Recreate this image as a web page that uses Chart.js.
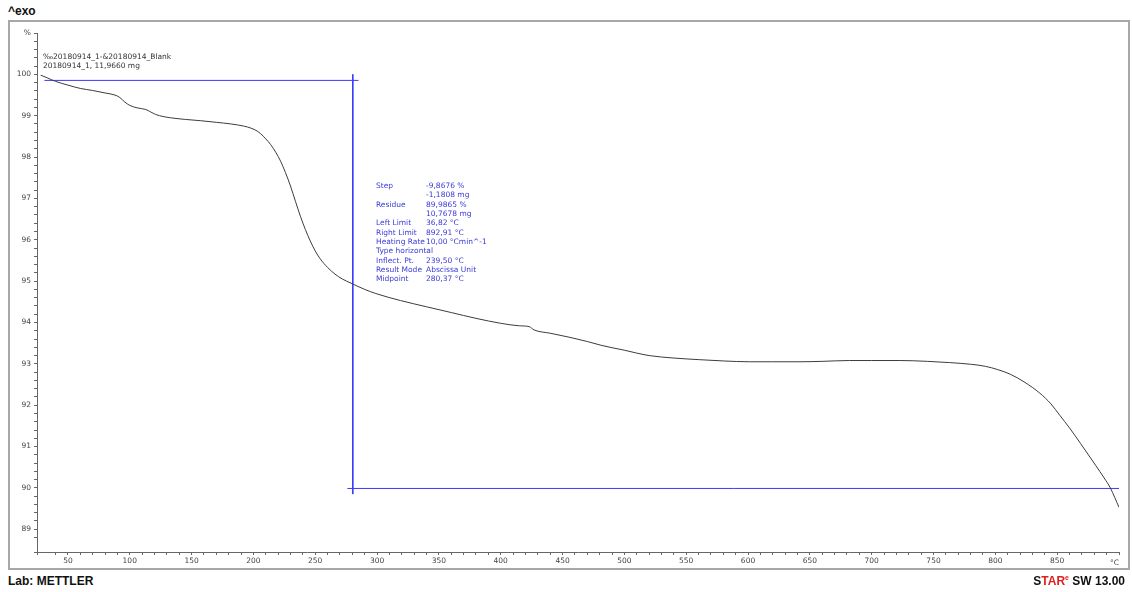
<!DOCTYPE html>
<html>
<head>
<meta charset="utf-8">
<script src="https://cdn.jsdelivr.net/npm/chart.js@4/dist/chart.umd.min.js"></script>
<style>
  body { margin: 0; background: #fff; width: 1132px; height: 592px; position: relative; overflow: hidden; font-family: "DejaVu Sans", sans-serif; }
  #frame { position: absolute; left: 8px; top: 20px; width: 1118px; height: 546px; border: 2px solid #a8a8a8; }
  #wrap { position: absolute; left: 0; top: 0; width: 1118px; height: 546px; }
  .t { position: absolute; white-space: pre; }
  .bold { font-family: "Liberation Sans", Arial, sans-serif; font-weight: bold; font-size: 12px; color: #111; }
  .small { font-size: 7.5px; color: #333; }
  .blue { font-size: 7.5px; color: #3a3ad8; line-height: 9.35px; }
</style>
</head>
<body>
<div class="t bold" style="left:8px;top:4px;">^exo</div>
<div id="frame"><div id="wrap"><canvas id="tga"></canvas></div></div>
<div class="t small" style="left:43px;top:52px;">‰20180914_1-&amp;20180914_Blank</div>
<div class="t small" style="left:43px;top:61px;">20180914_1, 11,9660 mg</div>
<div class="t blue" style="left:376px;top:181px;">Step
 
Residue
 
Left Limit
Right Limit
Heating Rate
Type horizontal
Inflect. Pt.
Result Mode
Midpoint</div>
<div class="t blue" style="left:426px;top:181px;">-9,8676 %
-1,1808 mg
89,9865 %
10,7678 mg
36,82 °C
892,91 °C
10,00 °Cmin^-1
 
239,50 °C
Abscissa Unit
280,37 °C</div>
<div class="t small" style="left:1110px;top:558px;font-size:7.5px;color:#444;">°C</div>
<div class="t bold" style="left:8px;top:574px;">Lab: METTLER</div>
<div class="t bold" style="right:7px;top:574px;">S<span style="color:#e02020">TAR</span><sup style="color:#e02020;font-size:7px;">e</sup> SW 13.00</div>
<script>
// TGA curve, temperature (°C) vs mass (%)
const temps = [28, 33, 40, 50, 60, 70, 80, 88, 92, 96, 100, 106, 113, 117, 121, 127, 133, 145, 157, 170,
  182, 192, 198, 203, 206, 210, 214, 218, 222, 226, 230, 234, 238, 242, 246, 250, 254, 260, 266, 272,
  279, 290, 299, 319, 340, 360, 380, 400, 415, 423, 427, 440, 456, 470, 481, 490, 500, 510, 520, 540,
  561, 580, 601, 620, 642, 660, 682, 700, 723, 745, 763, 780, 792, 802, 812, 824, 836, 845, 852, 860,
  869, 881, 888, 893, 900];
const massPct = [99.98, 99.92, 99.83, 99.74, 99.66, 99.61, 99.55, 99.50, 99.44, 99.33, 99.25, 99.19, 99.15, 99.09, 99.03, 98.98, 98.95, 98.91, 98.88, 98.84,
  98.80, 98.75, 98.70, 98.63, 98.56, 98.44, 98.30, 98.12, 97.90, 97.62, 97.30, 96.93, 96.57, 96.25, 95.97, 95.73, 95.54, 95.33, 95.17, 95.05,
  94.95, 94.80, 94.70, 94.53, 94.38, 94.24, 94.10, 93.98, 93.92, 93.90, 93.82, 93.74, 93.64, 93.54, 93.45, 93.39, 93.33, 93.26, 93.20, 93.14,
  93.10, 93.07, 93.05, 93.05, 93.05, 93.06, 93.08, 93.08, 93.08, 93.06, 93.03, 92.99, 92.94, 92.86, 92.75, 92.55, 92.29, 92.03, 91.76, 91.45,
  91.07, 90.55, 90.24, 90.00, 89.53];

// step evaluation construction lines
const stepTop = 99.854;
const stepResidue = 89.9865;
const midpoint = 280.37;
const topLineX = [31, 285];
const bottomLineX = [276, 900];
const vertLineY = [100.0, 89.85];

const xTicks = { min: 25, max: 900, step: 10, labelEvery: 50, lastLabel: 850 };
const yTicks = { min: 88.45, max: 101, step: 0.2 };

const curve = temps.map((t, i) => ({ x: t, y: massPct[i] }));
const blue = '#3a3aff';

new Chart(document.getElementById('tga'), {
  type: 'line',
  data: {
    datasets: [
      { data: curve, borderColor: '#3c3c3c', borderWidth: 1, pointRadius: 0, cubicInterpolationMode: 'monotone' },
      { data: topLineX.map(x => ({ x: x, y: stepTop })), borderColor: blue, borderWidth: 1, pointRadius: 0 },
      { data: bottomLineX.map(x => ({ x: x, y: stepResidue })), borderColor: blue, borderWidth: 1, pointRadius: 0 },
      { data: vertLineY.map(y => ({ x: midpoint, y: y })), borderColor: blue, borderWidth: 1, pointRadius: 0 }
    ]
  },
  options: {
    responsive: true,
    maintainAspectRatio: false,
    animation: false,
    layout: { padding: { top: 11, right: 9, left: 0, bottom: 0 } },
    scales: {
      x: {
        type: 'linear',
        min: xTicks.min,
        max: xTicks.max,
        afterFit: (s) => { s.height = 16; },
        border: { color: '#666', width: 1 },
        grid: { drawOnChartArea: false, tickLength: 3, color: '#666' },
        ticks: {
          stepSize: xTicks.step,
          autoSkip: false,
          maxRotation: 0,
          padding: 2,
          color: '#444',
          font: { family: 'DejaVu Sans', size: 7.5 },
          callback: (v) => (v % xTicks.labelEvery === 0 && v <= xTicks.lastLabel ? v : '')
        }
      },
      y: {
        min: yTicks.min,
        max: yTicks.max,
        afterFit: (s) => { s.width = 27; },
        border: { color: '#666', width: 1 },
        grid: { drawOnChartArea: false, tickLength: 3, color: '#666' },
        ticks: {
          stepSize: yTicks.step,
          autoSkip: false,
          padding: 3,
          color: '#444',
          font: { family: 'DejaVu Sans', size: 7.5 },
          callback: (v) => {
            if (Math.abs(v - Math.round(v)) > 1e-6) return '';
            if (v > 100.5) return '%';
            return Math.round(v);
          }
        }
      }
    },
    plugins: { legend: { display: false }, tooltip: { enabled: false } }
  }
});
</script>
</body>
</html>
